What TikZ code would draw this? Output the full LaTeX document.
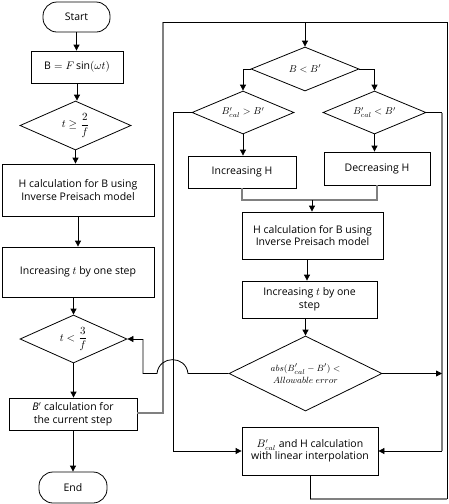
\documentclass[tikz,border=0pt]{standalone}
\usepackage{amsmath}
\usepackage{fontspec}
\setmainfont{Open Sans}
\usetikzlibrary{arrows.meta,shapes.geometric}
\begin{document}
\begin{tikzpicture}[x=1pt,y=-1pt,
  every node/.style={font=\fontsize{10.5}{12.5}\selectfont},
  box/.style={draw, line width=0.8pt, rectangle, inner sep=1pt, align=center},
  term/.style={draw, line width=0.8pt, rectangle, rounded corners=14pt, inner sep=1pt},
  dia/.style={draw, line width=0.8pt, diamond, inner sep=0pt, align=center, font=\fontsize{10}{12}\selectfont},
  ln/.style={line width=0.8pt},
  arr/.style={ln, -{Triangle[width=6pt,length=6pt]}},
  gln/.style={draw=gray, line width=1.5pt}]
\useasboundingbox (0,0) rectangle (449,504);

% left column
\node[term, minimum width=67pt, minimum height=30pt] (start) at (76.5,17) {Start};
\node[box, minimum width=92pt, minimum height=32pt] (bbox) at (77,67) {$\mathrm{B} = F\sin(\omega t)$};
\node[dia, aspect=2.27, minimum width=111pt, minimum height=49pt, font=\fontsize{11}{13}\selectfont] (d1) at (75.5,125.5) {$t \geq \dfrac{2}{f}$};
\node[box, minimum width=152pt, minimum height=52pt] (hc1) at (78,190) {H calculation for B using\\Inverse Preisach model};
\node[box, minimum width=152pt, minimum height=50pt] (inc1) at (78,272) {Increasing $t$ by one step};
\node[dia, aspect=2.23, minimum width=107pt, minimum height=48pt, font=\fontsize{11}{13}\selectfont] (d2) at (73.5,339) {$t < \dfrac{3}{f}$};
\node[box, minimum width=128pt, minimum height=32pt] (bp) at (73,414) {\textit{B}$'$ calculation for\\the current step};
\node[term, minimum width=68pt, minimum height=31pt] (end) at (73,487.5) {End};

% right part
\node[dia, aspect=2.45, minimum width=108pt, minimum height=44pt] (dB) at (305,69) {$B < B'$};
\node[dia, aspect=2.37, minimum width=102pt, minimum height=43pt] (dL) at (243,112.5) {$B'_{cal} > B'$};
\node[dia, aspect=2.37, minimum width=103pt, minimum height=43pt] (dR) at (374.5,112.5) {$B'_{cal} < B'$};
\node[box, minimum width=108pt, minimum height=32pt] (incH) at (242,172) {Increasing H};
\node[box, minimum width=106pt, minimum height=33pt] (decH) at (377,168.5) {Decreasing H};
\node[box, minimum width=141pt, minimum height=47pt] (hc2) at (312.5,235.5) {H calculation for B using\\Inverse Preisach model};
\node[box, minimum width=135pt, minimum height=37pt] (inc2) at (309.5,299.5) {Increasing $t$ by one\\step};
\node[dia, aspect=2.04, minimum width=153pt, minimum height=75pt, font=\fontsize{9.5}{11.5}\selectfont] (dA) at (305.5,373.5) {$abs(B'_{cal}-B')<$\\$Allowable\ error$};
\node[box, minimum width=136pt, minimum height=48pt] (last) at (310,451) {$B'_{cal}$ and $\mathrm{H}$ calculation\\with linear interpolation};

% coordinates
\coordinate (tl) at (163,22);
\coordinate (tr) at (447,22);
\coordinate (br) at (447,499);
\coordinate (bm) at (310,499);
\coordinate (mg) at (312,200);
\coordinate (lx) at (173,112.5);
\coordinate (rx) at (442,112.5);
\coordinate (ja) at (188,373.5);
\coordinate (jb) at (157,373.5);
\coordinate (jc) at (143,373.5);
\coordinate (bpr) at (163,413);

% left arrows
\draw[arr] (start.south) -- (start.south |- bbox.north);
\draw[arr] (bbox.south) -- (bbox.south |- d1.north);
\draw[arr] (d1.south) -- (d1.south |- hc1.north);
\draw[arr] (hc1.south) -- (hc1.south |- inc1.north);
\draw[arr] (d2.north |- inc1.south) -- (d2.north);
\draw[arr] (d2.south) -- (d2.south |- bp.north);
\draw[arr] (bp.south) -- (bp.south |- end.north);

% big loop
\draw[gln] (bp.east |- bpr) -- (bpr) -- (tl);
\draw[ln] (tl) -- (tr) -- (br);
\draw[gln] (br) -- (bm);
\draw[ln] (bm) -- (last.south -| bm);
\draw[arr] (dB.north |- tl) -- (dB.north);

% branches
\draw[ln] (dB.west) -| (dL.north |- dB.west);
\draw[arr] (dL.north |- dB.west) -- (dL.north);
\draw[ln] (dB.east) -| (dR.north |- dB.east);
\draw[arr] (dR.north |- dB.east) -- (dR.north);
\draw[arr] (dL.south) -- (dL.south |- incH.north);
\draw[arr] (dR.south) -- (dR.south |- decH.north);
\draw[gln] (incH.south) -- (incH.south |- mg) -- (decH.south |- mg) -- (decH.south);
\draw[arr] (mg) -- (mg |- hc2.north);
\coordinate (a2) at (307,0);
\coordinate (a3) at (305.5,0);
\draw[arr] (hc2.south -| a2) -- (inc2.north -| a2);
\draw[arr] (inc2.south -| a3) -- (dA.north);

% side lines to last box
\draw[ln] (dL.west) -- (lx);
\draw[arr] (lx) |- (last.west);
\draw[ln] (dR.east) -- (rx);
\draw[gln] (rx) -- (rx |- last.east);
\draw[arr] (rx |- last.east) -- (last.east);
\draw[arr] (dA.east) -- (dA.east -| rx);

% jump back to t<3/f
\draw[ln] (dA.west) -- (ja) .. controls (186,355) and (159,355) .. (jb) -- (jc) -- (jc |- d2.east);
\draw[arr] (jc |- d2.east) -- (d2.east);
\end{tikzpicture}
\end{document}
